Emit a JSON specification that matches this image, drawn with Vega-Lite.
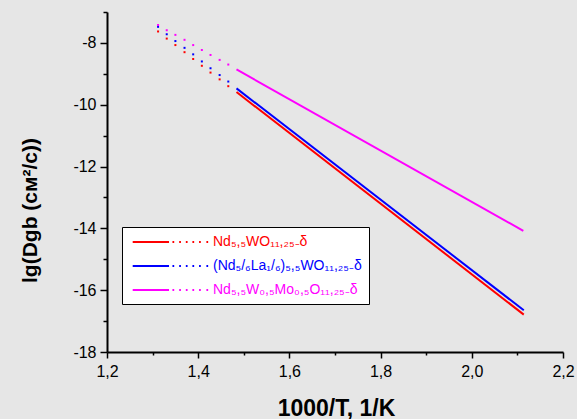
{
  "$schema": "https://vega.github.io/schema/vega-lite/v6.json",
  "width": 456,
  "height": 340,
  "autosize": {"type": "none"},
  "padding": {"left": 107, "top": 12, "right": 14, "bottom": 67},
  "background": "#e6e6e6",
  "config": {
    "view": {"stroke": null},
    "font": "Liberation Sans",
    "axis": {
      "domainColor": "black",
      "domainWidth": 2,
      "tickColor": "black",
      "tickWidth": 1.5,
      "labelColor": "black",
      "titleColor": "black",
      "labelFont": "Liberation Sans",
      "titleFont": "Liberation Sans",
      "labelFontSize": 16,
      "titleFontSize": 23,
      "titleFontWeight": "bold",
      "grid": false
    }
  },
  "data": {
    "values": [
      {"series": "Nd₅,₅WO₁₁,₂₅₋δ", "part": "line", "x": 1.484, "y": -9.59},
      {"series": "Nd₅,₅WO₁₁,₂₅₋δ", "part": "line", "x": 2.114, "y": -16.79},
      {"series": "(Nd₅/₆La₁/₆)₅,₅WO₁₁,₂₅₋δ", "part": "line", "x": 1.484, "y": -9.47},
      {"series": "(Nd₅/₆La₁/₆)₅,₅WO₁₁,₂₅₋δ", "part": "line", "x": 2.114, "y": -16.65},
      {"series": "Nd₅,₅W₀,₅Mo₀,₅O₁₁,₂₅₋δ", "part": "line", "x": 1.484, "y": -8.86},
      {"series": "Nd₅,₅W₀,₅Mo₀,₅O₁₁,₂₅₋δ", "part": "line", "x": 2.113, "y": -14.08},

      {"series": "Nd₅,₅WO₁₁,₂₅₋δ", "part": "dot", "x": 1.312, "y": -7.63},
      {"series": "Nd₅,₅WO₁₁,₂₅₋δ", "part": "dot", "x": 1.331, "y": -7.86},
      {"series": "Nd₅,₅WO₁₁,₂₅₋δ", "part": "dot", "x": 1.350, "y": -8.07},
      {"series": "Nd₅,₅WO₁₁,₂₅₋δ", "part": "dot", "x": 1.370, "y": -8.30},
      {"series": "Nd₅,₅WO₁₁,₂₅₋δ", "part": "dot", "x": 1.389, "y": -8.52},
      {"series": "Nd₅,₅WO₁₁,₂₅₋δ", "part": "dot", "x": 1.408, "y": -8.74},
      {"series": "Nd₅,₅WO₁₁,₂₅₋δ", "part": "dot", "x": 1.427, "y": -8.96},
      {"series": "Nd₅,₅WO₁₁,₂₅₋δ", "part": "dot", "x": 1.447, "y": -9.18},
      {"series": "Nd₅,₅WO₁₁,₂₅₋δ", "part": "dot", "x": 1.466, "y": -9.40},

      {"series": "(Nd₅/₆La₁/₆)₅,₅WO₁₁,₂₅₋δ", "part": "dot", "x": 1.312, "y": -7.48},
      {"series": "(Nd₅/₆La₁/₆)₅,₅WO₁₁,₂₅₋δ", "part": "dot", "x": 1.331, "y": -7.72},
      {"series": "(Nd₅/₆La₁/₆)₅,₅WO₁₁,₂₅₋δ", "part": "dot", "x": 1.350, "y": -7.94},
      {"series": "(Nd₅/₆La₁/₆)₅,₅WO₁₁,₂₅₋δ", "part": "dot", "x": 1.370, "y": -8.16},
      {"series": "(Nd₅/₆La₁/₆)₅,₅WO₁₁,₂₅₋δ", "part": "dot", "x": 1.389, "y": -8.37},
      {"series": "(Nd₅/₆La₁/₆)₅,₅WO₁₁,₂₅₋δ", "part": "dot", "x": 1.408, "y": -8.60},
      {"series": "(Nd₅/₆La₁/₆)₅,₅WO₁₁,₂₅₋δ", "part": "dot", "x": 1.427, "y": -8.82},
      {"series": "(Nd₅/₆La₁/₆)₅,₅WO₁₁,₂₅₋δ", "part": "dot", "x": 1.447, "y": -9.04},
      {"series": "(Nd₅/₆La₁/₆)₅,₅WO₁₁,₂₅₋δ", "part": "dot", "x": 1.466, "y": -9.25},

      {"series": "Nd₅,₅W₀,₅Mo₀,₅O₁₁,₂₅₋δ", "part": "dot", "x": 1.312, "y": -7.42},
      {"series": "Nd₅,₅W₀,₅Mo₀,₅O₁₁,₂₅₋δ", "part": "dot", "x": 1.331, "y": -7.59},
      {"series": "Nd₅,₅W₀,₅Mo₀,₅O₁₁,₂₅₋δ", "part": "dot", "x": 1.350, "y": -7.74},
      {"series": "Nd₅,₅W₀,₅Mo₀,₅O₁₁,₂₅₋δ", "part": "dot", "x": 1.370, "y": -7.90},
      {"series": "Nd₅,₅W₀,₅Mo₀,₅O₁₁,₂₅₋δ", "part": "dot", "x": 1.389, "y": -8.07},
      {"series": "Nd₅,₅W₀,₅Mo₀,₅O₁₁,₂₅₋δ", "part": "dot", "x": 1.408, "y": -8.23},
      {"series": "Nd₅,₅W₀,₅Mo₀,₅O₁₁,₂₅₋δ", "part": "dot", "x": 1.427, "y": -8.39},
      {"series": "Nd₅,₅W₀,₅Mo₀,₅O₁₁,₂₅₋δ", "part": "dot", "x": 1.447, "y": -8.55},
      {"series": "Nd₅,₅W₀,₅Mo₀,₅O₁₁,₂₅₋δ", "part": "dot", "x": 1.466, "y": -8.70}
    ]
  },
  "encoding": {
    "x": {
      "field": "x",
      "type": "quantitative",
      "scale": {"domain": [1.2, 2.2], "nice": false, "zero": false},
      "axis": {
        "title": "1000/T, 1/K",
        "values": [1.2, 1.3, 1.4, 1.5, 1.6, 1.7, 1.8, 1.9, 2.0, 2.1, 2.2],
        "labelExpr": "round(datum.value * 10) % 2 == 0 ? replace(format(datum.value, '.1f'), '.', ',') : ''",
        "tickSize": {"condition": {"test": "round(datum.value * 10) % 2 == 0", "value": 6}, "value": 3},
        "labelPadding": 5,
        "labelFlush": false,
        "labelOverlap": false,
        "titleX": 229,
        "titleY": 63,
        "titleBaseline": "alphabetic"
      }
    },
    "y": {
      "field": "y",
      "type": "quantitative",
      "scale": {"domain": [-18, -7], "nice": false, "zero": false},
      "axis": {
        "title": "lg(Dgb (см²/с))",
        "titleFontSize": 21,
        "values": [-18, -17, -16, -15, -14, -13, -12, -11, -10, -9, -8, -7],
        "labelExpr": "datum.value % 2 == 0 ? replace(format(datum.value, 'd'), '−', '-') : ''",
        "tickSize": {"condition": {"test": "datum.value % 2 == 0", "value": 7}, "value": 4},
        "labelPadding": 4,
        "labelFlush": false,
        "labelOverlap": false,
        "titleX": -71,
        "titleY": 198,
        "titleAngle": -90,
        "titleAlign": "center",
        "titleBaseline": "alphabetic"
      }
    }
  },
  "layer": [
    {
      "transform": [{"filter": "datum.part == 'line'"}],
      "mark": {"type": "line", "strokeWidth": 2},
      "encoding": {
        "color": {
          "field": "series",
          "type": "nominal",
          "sort": ["Nd₅,₅WO₁₁,₂₅₋δ", "(Nd₅/₆La₁/₆)₅,₅WO₁₁,₂₅₋δ", "Nd₅,₅W₀,₅Mo₀,₅O₁₁,₂₅₋δ"],
          "scale": {
            "domain": ["Nd₅,₅WO₁₁,₂₅₋δ", "(Nd₅/₆La₁/₆)₅,₅WO₁₁,₂₅₋δ", "Nd₅,₅W₀,₅Mo₀,₅O₁₁,₂₅₋δ"],
            "range": ["#ff0000", "#0000ff", "#ff00ff"]
          },
          "legend": {
            "title": null,
            "orient": "none",
            "legendX": 15,
            "legendY": 215,
            "fillColor": "white",
            "strokeColor": "black",
            "padding": 7,
            "symbolType": "M-9.9,0L-4.71,0M-4.22,0L-3.97,0M-3.26,0L-3.01,0M-2.31,0L-2.06,0M-1.37,0L-1.12,0M-0.42,0L-0.17,0M0.63,0L0.88,0",
            "symbolSize": 196,
            "symbolStrokeWidth": 2,
            "symbolOffset": 65,
            "labelFont": "Liberation Sans",
            "labelFontSize": 14,
            "labelOffset": 3,
            "labelLimit": 400,
            "rowPadding": 9,
            "labelColor": {"expr": "scale('color', datum.value)"}
          }
        }
      }
    },
    {
      "transform": [{"filter": "datum.part == 'dot'"}],
      "mark": {"type": "square", "size": 4, "filled": true, "opacity": 1},
      "encoding": {
        "fill": {
          "field": "series",
          "type": "nominal",
          "scale": {
            "domain": ["Nd₅,₅WO₁₁,₂₅₋δ", "(Nd₅/₆La₁/₆)₅,₅WO₁₁,₂₅₋δ", "Nd₅,₅W₀,₅Mo₀,₅O₁₁,₂₅₋δ"],
            "range": ["#ff0000", "#0000ff", "#ff00ff"]
          },
          "legend": null
        }
      }
    }
  ]
}
